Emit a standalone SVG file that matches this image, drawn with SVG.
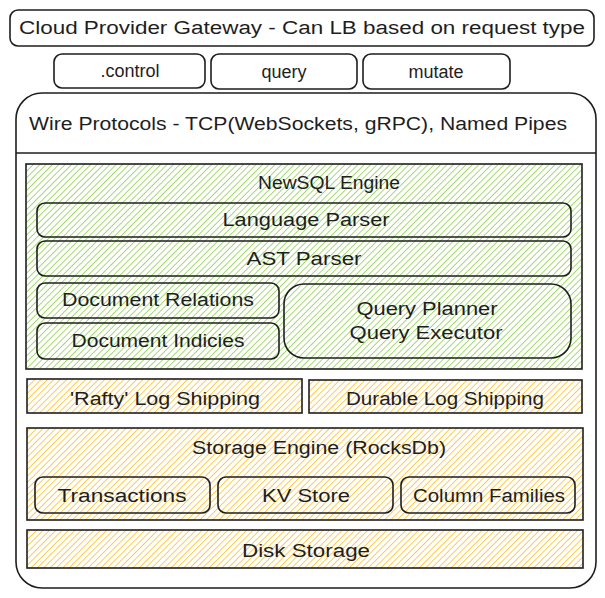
<svg xmlns="http://www.w3.org/2000/svg" width="605" height="598" viewBox="0 0 605 598">
<defs>
<pattern id="hg" patternUnits="userSpaceOnUse" width="4.5" height="4.5" patternTransform="rotate(45)">
<line x1="0" y1="0" x2="0" y2="4.5" stroke="#9ed766" stroke-width="1.8"/>
</pattern>
<pattern id="hy" patternUnits="userSpaceOnUse" width="4.5" height="4.5" patternTransform="rotate(45)">
<line x1="0" y1="0" x2="0" y2="4.5" stroke="#ffc845" stroke-width="1.8"/>
</pattern>
<style>
.b{fill:none;stroke:#1e1e1e;stroke-width:1.6}
.w{fill:#fff;stroke:#1e1e1e;stroke-width:1.6}
.g{fill:url(#hg);stroke:#1e1e1e;stroke-width:1.6}
.y{fill:url(#hy);stroke:#1e1e1e;stroke-width:1.6}
text{font-family:"Liberation Sans","DejaVu Sans",sans-serif;fill:#1e1e1e;font-size:18px;text-anchor:middle;dominant-baseline:central}
</style>
</defs>
<rect width="605" height="598" fill="#fff"/>
<g id="gateway">
<rect class="w" x="10" y="10" width="584" height="36" rx="8"/>
<text x="302" y="28" font-size="20" textLength="566" lengthAdjust="spacingAndGlyphs">Cloud Provider Gateway - Can LB based on request type</text>
</g>
<g id="control">
<rect class="w" x="54" y="54" width="151" height="34" rx="8"/>
<text x="130" y="71">.control</text>
</g>
<g id="query">
<rect class="w" x="211" y="54" width="146" height="35" rx="8"/>
<text x="284" y="72">query</text>
</g>
<g id="mutate">
<rect class="w" x="363" y="54" width="147" height="35" rx="8"/>
<text x="436" y="72">mutate</text>
</g>
<g id="wire">
<rect class="w" x="16" y="93" width="580" height="495" rx="26"/>
<line class="b" x1="16" y1="153" x2="596" y2="153"/>
<text x="298" y="124" font-size="20" textLength="538" lengthAdjust="spacingAndGlyphs">Wire Protocols - TCP(WebSockets, gRPC), Named Pipes</text>
</g>
<g id="newsql">
<rect class="g" x="26" y="164" width="556" height="205"/>
<text x="329" y="183" textLength="142" lengthAdjust="spacingAndGlyphs">NewSQL Engine</text>
</g>
<g id="language-parser">
<rect class="b" x="37" y="203" width="534" height="34" rx="8"/>
<text x="306" y="220" textLength="167" lengthAdjust="spacingAndGlyphs">Language Parser</text>
</g>
<g id="ast-parser">
<rect class="b" x="37" y="241" width="534" height="35" rx="8"/>
<text x="304" y="259" textLength="115" lengthAdjust="spacingAndGlyphs">AST Parser</text>
</g>
<g id="doc-relations">
<rect class="b" x="37" y="283" width="242" height="35" rx="8"/>
<text x="158" y="300" textLength="192" lengthAdjust="spacingAndGlyphs">Document Relations</text>
</g>
<g id="doc-indicies">
<rect class="b" x="37" y="323" width="242" height="36" rx="8"/>
<text x="158" y="341" textLength="173" lengthAdjust="spacingAndGlyphs">Document Indicies</text>
</g>
<g id="query-planner">
<rect class="b" x="284" y="284" width="287" height="74" rx="20"/>
<text x="427" y="309" textLength="141" lengthAdjust="spacingAndGlyphs">Query Planner</text>
<text x="426" y="333" textLength="153" lengthAdjust="spacingAndGlyphs">Query Executor</text>
</g>
<g id="rafty">
<rect class="y" x="27" y="379" width="275" height="34"/>
<text x="165" y="399" textLength="190" lengthAdjust="spacingAndGlyphs">'Rafty' Log Shipping</text>
</g>
<g id="durable">
<rect class="y" x="309" y="380" width="273" height="33"/>
<text x="445" y="399" textLength="198" lengthAdjust="spacingAndGlyphs">Durable Log Shipping</text>
</g>
<g id="storage-engine">
<rect class="y" x="27" y="428" width="556" height="92"/>
<text x="319" y="448" textLength="254" lengthAdjust="spacingAndGlyphs">Storage Engine (RocksDb)</text>
</g>
<g id="transactions">
<rect class="b" x="35" y="477" width="175" height="36" rx="8"/>
<text x="122" y="496" textLength="129" lengthAdjust="spacingAndGlyphs">Transactions</text>
</g>
<g id="kv-store">
<rect class="b" x="218" y="477" width="175" height="36" rx="8"/>
<text x="306" y="496" textLength="88" lengthAdjust="spacingAndGlyphs">KV Store</text>
</g>
<g id="column-families">
<rect class="b" x="401" y="477" width="174" height="36" rx="8"/>
<text x="489" y="496" textLength="152" lengthAdjust="spacingAndGlyphs">Column Families</text>
</g>
<g id="disk-storage">
<rect class="y" x="27" y="530" width="556" height="38"/>
<text x="306" y="551" textLength="128" lengthAdjust="spacingAndGlyphs">Disk Storage</text>
</g>
<g id="connectors"/>
</svg>
